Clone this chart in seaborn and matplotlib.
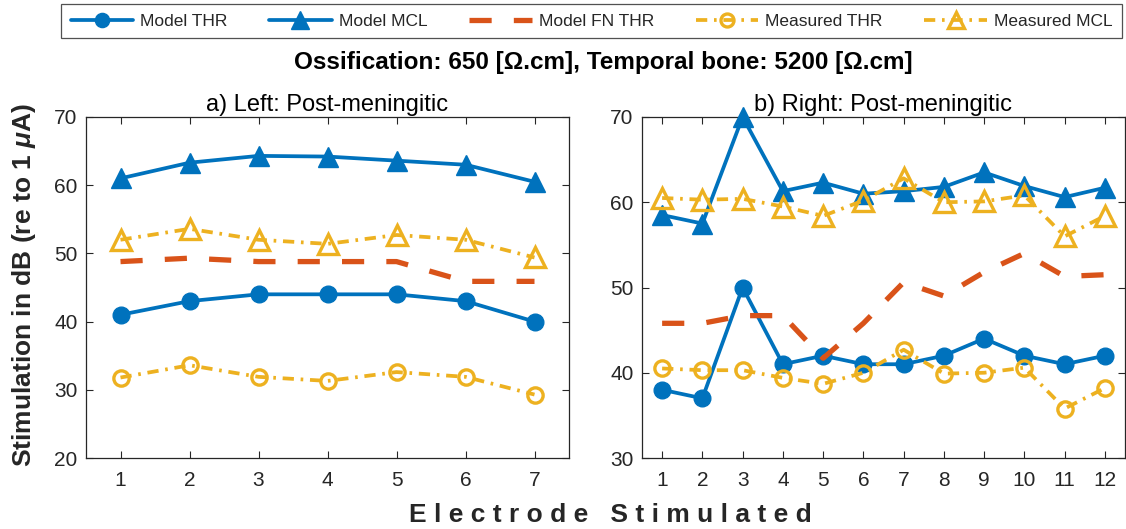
import matplotlib
matplotlib.use("Agg")
import matplotlib.pyplot as plt
import seaborn as sns
import numpy as np

# ---- data ----
left_x = [1, 2, 3, 4, 5, 6, 7]
left_model_thr = [41, 43, 44, 44, 44, 43, 40]
left_model_mcl = [61.0, 63.3, 64.3, 64.2, 63.6, 63.0, 60.5]
left_model_fn_thr = [48.8, 49.3, 48.8, 48.8, 48.8, 45.9, 45.9]
left_meas_thr = [31.8, 33.6, 31.9, 31.3, 32.6, 31.9, 29.3]
left_meas_mcl = [52.0, 53.6, 52.0, 51.4, 52.7, 52.0, 49.4]

right_x = [1, 2, 3, 4, 5, 6, 7, 8, 9, 10, 11, 12]
right_model_thr = [38, 37, 50, 41, 42, 41, 41, 42, 44, 42, 41, 42]
right_model_mcl = [58.5, 57.5, 70.0, 61.3, 62.3, 61.0, 61.3, 61.8, 63.5, 61.9, 60.6, 61.7]
right_model_fn_thr = [45.8, 45.8, 46.7, 46.7, 41.7, 45.8, 50.6, 49.0, 51.8, 54.0, 51.3, 51.5]
right_meas_thr = [40.5, 40.3, 40.3, 39.4, 38.7, 40.0, 42.7, 39.9, 40.0, 40.6, 35.8, 38.2]
right_meas_mcl = [60.5, 60.3, 60.4, 59.5, 58.4, 60.2, 62.8, 60.0, 60.1, 60.8, 56.0, 58.4]

series_names = ["Model THR", "Model MCL", "Model FN THR", "Measured THR", "Measured MCL"]
titles = ["a) Left: Post-meningitic", "b) Right: Post-meningitic"]
suptitle = "Ossification: 650 [\u03a9.cm], Temporal bone: 5200 [\u03a9.cm]"

BLUE = "#0072BD"
ORANGE = "#D95319"
YELLOW = "#EDB120"

sns.set_style("ticks")
plt.rcParams["font.family"] = ["Liberation Sans", "DejaVu Sans"]
plt.rcParams["mathtext.fontset"] = "custom"
plt.rcParams["mathtext.it"] = "Liberation Sans:italic:bold"
plt.rcParams["mathtext.rm"] = "Liberation Sans:bold"
plt.rcParams["xtick.direction"] = "in"
plt.rcParams["ytick.direction"] = "in"
plt.rcParams["axes.edgecolor"] = "#262626"
plt.rcParams["xtick.color"] = "#262626"
plt.rcParams["ytick.color"] = "#262626"

fig = plt.figure(figsize=(11.26, 5.29), dpi=100)
axL = fig.add_axes([86/1126, 1-458/529, 483/1126, 341/529])
axR = fig.add_axes([642/1126, 1-458/529, 483/1126, 341/529])

DASHDOT = (0, (3.0, 1.8, 0.7, 1.8))
styles = [
    dict(color=BLUE, marker="o", markersize=12, markeredgecolor=BLUE, markeredgewidth=1,
         linestyle="-", linewidth=2.7),
    dict(color=BLUE, marker="^", markersize=15, markeredgecolor=BLUE, markeredgewidth=1,
         linestyle="-", linewidth=2.7),
    dict(color=ORANGE, marker="", linestyle=(0, (4.2, 4.2)), linewidth=3.8),
    dict(color=YELLOW, marker="o", markersize=11, markerfacecolor="none", markeredgecolor=YELLOW,
         markeredgewidth=2.4, linestyle=DASHDOT, linewidth=2.7),
    dict(color=YELLOW, marker="^", markersize=14, markerfacecolor="none", markeredgecolor=YELLOW,
         markeredgewidth=2.4, linestyle=DASHDOT, linewidth=2.7),
]

def draw(ax, x, ys, title, ylim, yticks, xlim):
    for name, y, st in zip(series_names, ys, styles):
        sns.lineplot(x=x, y=y, ax=ax, label=name, clip_on=False, **st)
    ax.set_xlim(*xlim)
    ax.set_ylim(*ylim)
    ax.set_xticks(x)
    ax.set_yticks(yticks)
    ax.tick_params(axis="both", which="both", top=True, right=True, length=5,
                   width=0.8, labelsize=15, labelcolor="#262626")
    ax.tick_params(axis="x", pad=9)
    ax.tick_params(axis="y", pad=6)
    for s in ax.spines.values():
        s.set_linewidth(0.9)
        s.set_zorder(0.5)
    ax.set_title(title, fontsize=17, pad=4, color="black")
    ax.set_xlabel("")
    ax.set_ylabel("")
    lg = ax.get_legend()
    if lg is not None:
        lg.remove()

draw(axL, left_x, [left_model_thr, left_model_mcl, left_model_fn_thr, left_meas_thr, left_meas_mcl],
     titles[0], (20, 70), [20, 30, 40, 50, 60, 70], (0.5, 7.5))
draw(axR, right_x, [right_model_thr, right_model_mcl, right_model_fn_thr, right_meas_thr, right_meas_mcl],
     titles[1], (30, 70), [30, 40, 50, 60, 70], (0.5, 12.5))

handles, labels = axL.get_legend_handles_labels()
leg = fig.legend(handles, labels, loc="upper left", ncol=5, mode="expand",
                 bbox_to_anchor=(61/1126, 1-4/529, (1122-61)/1126, 0.0),
                 fontsize=12.5, frameon=True, fancybox=False, handlelength=3.6,
                 handletextpad=0.4, borderaxespad=0, borderpad=0.55, columnspacing=0.8,
                 markerscale=0.85)
leg.get_frame().set_edgecolor("#262626")
leg.get_frame().set_linewidth(0.9)

fig.text(603/1126, 1-63/529, suptitle, ha="center", va="center", fontsize=17.5,
         fontweight="bold", color="black")
fig.text(24/1126, 1-285/529, "Stimulation in dB (re to 1 $\\mathit{\\mu}$A)", rotation=90,
         ha="center", va="center", fontsize=19, fontweight="bold", color="#262626")
fig.text(610/1126, 1-515/529, "E l e c t r o d e   S t i m u l a t e d", ha="center", va="center",
         fontsize=19, fontweight="bold", color="#262626")

fig.savefig("out.png", dpi=100)
